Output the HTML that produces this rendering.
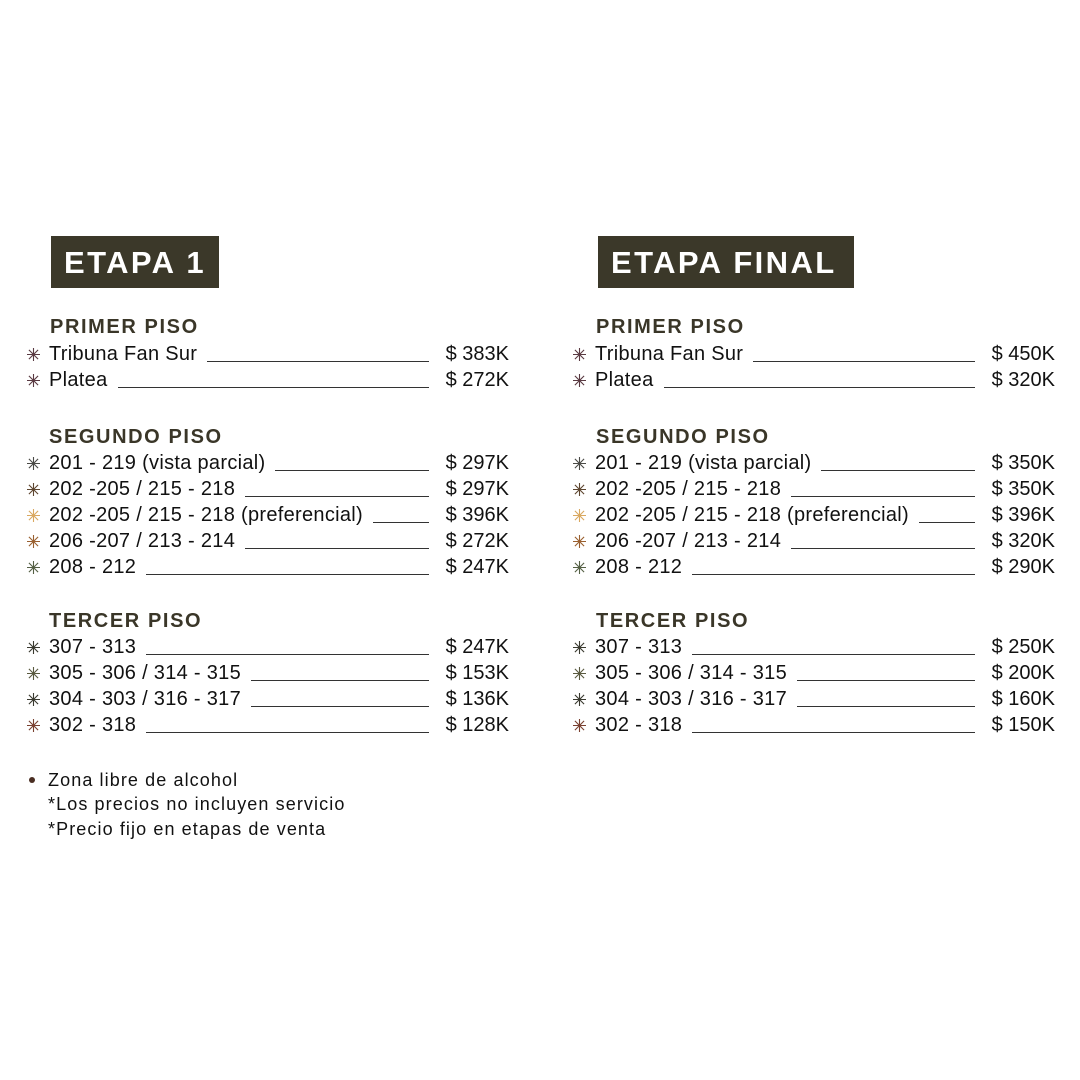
<!DOCTYPE html>
<html><head><meta charset="utf-8"><style>
body{margin:0;width:1080px;height:1080px;background:#fff;position:relative;font-family:"Liberation Sans",sans-serif;color:#111;overflow:hidden}
.box{position:absolute;top:236px;height:52px;background:#3b3829;color:#fff;font-weight:bold;font-size:31px;line-height:54px;letter-spacing:2.4px;box-sizing:border-box;padding-left:13px}
.h{position:absolute;font-weight:bold;font-size:20px;color:#3a3628;letter-spacing:1.6px;line-height:22px}
.r{position:absolute;height:26px;width:482px;display:flex;align-items:flex-end;font-size:20px;line-height:26px;letter-spacing:0.3px}
.r svg{flex:none;width:13px;height:13px;margin-right:9px;margin-bottom:6px}
.r .t{flex:none;white-space:nowrap}
.r .l{flex:1;border-bottom:1.3px solid #333;margin:0 12px 5px 10px}
.r .p{flex:none;width:68px;text-align:right;white-space:nowrap;letter-spacing:0}
.n{position:absolute;left:48px;font-size:18px;line-height:24px;color:#111;letter-spacing:1.1px}
</style></head><body>
<svg width="0" height="0" style="position:absolute"><defs><g id="s"><path d="M6.5 0V13M0 6.5H13M1.9 1.9L11.1 11.1M11.1 1.9L1.9 11.1" stroke-width="1.1" fill="none"/></g></defs></svg>

<div class="box" style="left:51px;width:168px">ETAPA 1</div>
<div class="box" style="left:598px;width:256px">ETAPA FINAL</div>

<div class="h" style="left:50px;top:316px">PRIMER PISO</div>
<div class="h" style="left:49px;top:426px">SEGUNDO PISO</div>
<div class="h" style="left:49px;top:610px">TERCER PISO</div>
<div class="h" style="left:596px;top:316px">PRIMER PISO</div>
<div class="h" style="left:596px;top:426px">SEGUNDO PISO</div>
<div class="h" style="left:596px;top:610px">TERCER PISO</div>

<!-- left -->
<div class="r" style="left:27px;top:341px"><svg><use href="#s" stroke="#5a3a42"/></svg><span class="t">Tribuna Fan Sur</span><span class="l"></span><span class="p">$ 383K</span></div>
<div class="r" style="left:27px;top:367px"><svg><use href="#s" stroke="#5a3a42"/></svg><span class="t">Platea</span><span class="l"></span><span class="p">$ 272K</span></div>
<div class="r" style="left:27px;top:450px"><svg><use href="#s" stroke="#4a4a46"/></svg><span class="t">201 - 219 (vista parcial)</span><span class="l"></span><span class="p">$ 297K</span></div>
<div class="r" style="left:27px;top:476px"><svg><use href="#s" stroke="#5e4630"/></svg><span class="t">202 -205 / 215 - 218</span><span class="l"></span><span class="p">$ 297K</span></div>
<div class="r" style="left:27px;top:502px"><svg><use href="#s" stroke="#d9a860"/></svg><span class="t">202 -205 / 215 - 218 (preferencial)</span><span class="l"></span><span class="p">$ 396K</span></div>
<div class="r" style="left:27px;top:528px"><svg><use href="#s" stroke="#9a6030"/></svg><span class="t">206 -207 / 213 - 214</span><span class="l"></span><span class="p">$ 272K</span></div>
<div class="r" style="left:27px;top:554px"><svg><use href="#s" stroke="#556045"/></svg><span class="t">208 - 212</span><span class="l"></span><span class="p">$ 247K</span></div>
<div class="r" style="left:27px;top:634px"><svg><use href="#s" stroke="#3a3a30"/></svg><span class="t">307 - 313</span><span class="l"></span><span class="p">$ 247K</span></div>
<div class="r" style="left:27px;top:660px"><svg><use href="#s" stroke="#5a5a40"/></svg><span class="t">305 - 306 / 314 - 315</span><span class="l"></span><span class="p">$ 153K</span></div>
<div class="r" style="left:27px;top:686px"><svg><use href="#s" stroke="#3a3a30"/></svg><span class="t">304 - 303 / 316 - 317</span><span class="l"></span><span class="p">$ 136K</span></div>
<div class="r" style="left:27px;top:712px"><svg><use href="#s" stroke="#7a4030"/></svg><span class="t">302 - 318</span><span class="l"></span><span class="p">$ 128K</span></div>

<!-- right -->
<div class="r" style="left:573px;top:341px"><svg><use href="#s" stroke="#5a3a42"/></svg><span class="t">Tribuna Fan Sur</span><span class="l"></span><span class="p">$ 450K</span></div>
<div class="r" style="left:573px;top:367px"><svg><use href="#s" stroke="#5a3a42"/></svg><span class="t">Platea</span><span class="l"></span><span class="p">$ 320K</span></div>
<div class="r" style="left:573px;top:450px"><svg><use href="#s" stroke="#4a4a46"/></svg><span class="t">201 - 219 (vista parcial)</span><span class="l"></span><span class="p">$ 350K</span></div>
<div class="r" style="left:573px;top:476px"><svg><use href="#s" stroke="#5e4630"/></svg><span class="t">202 -205 / 215 - 218</span><span class="l"></span><span class="p">$ 350K</span></div>
<div class="r" style="left:573px;top:502px"><svg><use href="#s" stroke="#d9a860"/></svg><span class="t">202 -205 / 215 - 218 (preferencial)</span><span class="l"></span><span class="p">$ 396K</span></div>
<div class="r" style="left:573px;top:528px"><svg><use href="#s" stroke="#9a6030"/></svg><span class="t">206 -207 / 213 - 214</span><span class="l"></span><span class="p">$ 320K</span></div>
<div class="r" style="left:573px;top:554px"><svg><use href="#s" stroke="#556045"/></svg><span class="t">208 - 212</span><span class="l"></span><span class="p">$ 290K</span></div>
<div class="r" style="left:573px;top:634px"><svg><use href="#s" stroke="#3a3a30"/></svg><span class="t">307 - 313</span><span class="l"></span><span class="p">$ 250K</span></div>
<div class="r" style="left:573px;top:660px"><svg><use href="#s" stroke="#5a5a40"/></svg><span class="t">305 - 306 / 314 - 315</span><span class="l"></span><span class="p">$ 200K</span></div>
<div class="r" style="left:573px;top:686px"><svg><use href="#s" stroke="#3a3a30"/></svg><span class="t">304 - 303 / 316 - 317</span><span class="l"></span><span class="p">$ 160K</span></div>
<div class="r" style="left:573px;top:712px"><svg><use href="#s" stroke="#7a4030"/></svg><span class="t">302 - 318</span><span class="l"></span><span class="p">$ 150K</span></div>

<div style="position:absolute;left:29px;top:777px;width:6px;height:6px;border-radius:50%;background:#4a2e22"></div>
<div class="n" style="top:768px">Zona libre de alcohol</div>
<div class="n" style="top:792px">*Los precios no incluyen servicio</div>
<div class="n" style="top:817px">*Precio fijo en etapas de venta</div>
</body></html>
